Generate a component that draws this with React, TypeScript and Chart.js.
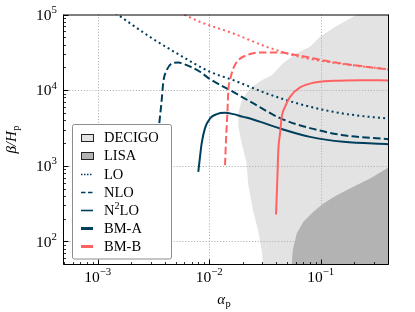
import { useEffect, useRef } from 'react';
import { Chart, registerables } from 'chart.js';

Chart.register(...registerables);

// ---------------- data ----------------
const X_MIN = 4.94e-4;
const X_MAX = 0.405;
const Y_MIN = 49.6;
const Y_MAX = 1e5;

const xMajor = [1e-3, 1e-2, 1e-1];
const xTickLabels = ['10^{\u22123}', '10^{\u22122}', '10^{\u22121}'];
const yMajor = [1e2, 1e3, 1e4, 1e5];
const yTickLabels = ['10^{2}', '10^{3}', '10^{4}', '10^{5}'];

const xTitle = '\u03B1_{p}';
const yTitle = '\u03B2/H_{p}';

const legendLabels = ['DECIGO', 'LISA', 'LO', 'NLO', 'N^{2}LO', 'BM-A', 'BM-B'];

// BM-A
const bmA_LO_x = [0.00133, 0.00294, 0.00547, 0.01017, 0.01645, 0.03279, 0.06522, 0.1297, 0.2252, 0.4041];
const bmA_LO_y = [114000, 50650, 29010, 17460, 13560, 9045, 6530, 5166, 4574, 4226];

const bmA_NLO_x = [0.00357, 0.00375, 0.00388, 0.00416, 0.00461, 0.00528, 0.00628, 0.00827, 0.01017, 0.01537, 0.0247, 0.0432, 0.0802, 0.1585, 0.4041];
const bmA_NLO_y = [3660, 7375, 12900, 18400, 22500, 23200, 21400, 17500, 13980, 10000, 6730, 4260, 3150, 2540, 2250];

const bmA_N2LO_x = [0.00798, 0.00827, 0.00856, 0.00917, 0.01017, 0.01168, 0.01386, 0.01645, 0.02021, 0.02322, 0.04315, 0.0802, 0.1595, 0.4041];
const bmA_N2LO_y = [832, 1313, 1974, 3146, 4226, 4818, 5012, 4818, 4438, 4226, 3117, 2413, 2073, 1933];

// BM-B
const bmB_LO_x = [0.00494, 0.00827, 0.01645, 0.03279, 0.06522, 0.1297, 0.2252, 0.4041];
const bmB_LO_y = [114200, 79940, 56170, 37360, 27550, 23090, 20760, 18950];

const bmB_NLO_x = [0.01386, 0.01415, 0.01459, 0.01484, 0.01537, 0.01645, 0.01824, 0.0217, 0.02856, 0.0403, 0.05679, 0.1297, 0.4041];
const bmB_NLO_y = [1020, 2183, 5440, 10000, 13560, 19360, 24920, 29010, 31510, 31510, 29640, 23450, 18660];

const bmB_N2LO_x = [0.03972, 0.0408, 0.04166, 0.04315, 0.04469, 0.04783, 0.05305, 0.06522, 0.0858, 0.1297, 0.2252, 0.4041];
const bmB_N2LO_y = [227.5, 646, 1610, 2677, 4438, 6016, 8155, 10860, 12490, 13270, 13560, 13430];

// sensitivity regions (outline, closed beyond the plot)
const decigoX = [0.25, 0.2103, 0.1711, 0.1289, 0.0986, 0.0802, 0.0609, 0.0459, 0.03634, 0.02957, 0.02322, 0.01956, 0.01824, 0.01824, 0.01956, 0.02095, 0.0217, 0.02228, 0.0247, 0.0274, 0.02957, 0.0307, 1, 1];
const decigoY = [115000, 98900, 84230, 66000, 50650, 37360, 30840, 22750, 15790, 13560, 10630, 7375, 4966, 3272, 1992, 1313, 1084, 590, 259, 141, 76.7, 45, 45, 115000];

const lisaX = [1, 0.0549, 0.0549, 0.05609, 0.0609, 0.06981, 0.0858, 0.1055, 0.1391, 0.196, 0.2768, 0.3907, 0.5, 1];
const lisaY = [40, 40, 48.6, 76.7, 127.6, 181.6, 246.2, 317.9, 409.3, 526.8, 680.3, 922.6, 1150, 1150];

// ---------------- styles ----------------
const BM_A = '#003f5c';
const BM_B = '#ff6361';
const DECIGO_FILL = '#e3e3e3';
const LISA_FILL = '#b3b3b3';
const FONT = '"Liberation Serif", "DejaVu Serif", "Times New Roman", serif';
const DOT = [2, 3.2];
const DASH = [7.5, 3.3];

type Seg = { t: string; k: 'n' | 'sup' | 'sub' };
function parseRich(s: string): Seg[] {
  const out: Seg[] = [];
  const re = /(\^|_)\{([^}]*)\}/g;
  let last = 0;
  let m: RegExpExecArray | null;
  while ((m = re.exec(s))) {
    if (m.index > last) out.push({ t: s.slice(last, m.index), k: 'n' });
    out.push({ t: m[2], k: m[1] === '^' ? 'sup' : 'sub' });
    last = re.lastIndex;
  }
  if (last < s.length) out.push({ t: s.slice(last), k: 'n' });
  return out;
}

function drawRich(ctx: CanvasRenderingContext2D, text: string, x: number, y: number, size: number, align: 'left' | 'center' | 'right', italic = false) {
  const segs = parseRich(text);
  const fontFor = (k: Seg['k']) => {
    const s = k === 'n' ? size : size * 0.7;
    const st = k === 'n' && italic ? 'italic ' : '';
    return `${st}${s}px ${FONT}`;
  };
  let w = 0;
  const widths = segs.map((sg) => {
    ctx.font = fontFor(sg.k);
    const mw = ctx.measureText(sg.t).width + (sg.k === 'sub' && italic ? 0.5 : 0);
    w += mw;
    return mw;
  });
  let cx = align === 'left' ? x : align === 'center' ? x - w / 2 : x - w;
  ctx.textAlign = 'left';
  ctx.textBaseline = 'alphabetic';
  segs.forEach((sg, i) => {
    ctx.font = fontFor(sg.k);
    const dy = sg.k === 'sup' ? -size * 0.42 : sg.k === 'sub' ? size * 0.22 : 0;
    ctx.fillText(sg.t, cx + (sg.k === 'sub' && italic ? 0.5 : 0), y + dy);
    cx += widths[i];
  });
}

const decor = {
  id: 'decor',
  beforeDatasetsDraw(chart: any) {
    const ctx: CanvasRenderingContext2D = chart.ctx;
    const { left, right, top, bottom } = chart.chartArea;
    const xs = chart.scales.x;
    const ys = chart.scales.y;
    ctx.save();
    ctx.strokeStyle = '#b0b0b0';
    ctx.lineWidth = 1;
    ctx.setLineDash([1.1, 1.8]);
    xMajor.forEach((v) => {
      const px = Math.round(xs.getPixelForValue(v)) + 0.5;
      ctx.beginPath();
      ctx.moveTo(px, top);
      ctx.lineTo(px, bottom);
      ctx.stroke();
    });
    yMajor.forEach((v) => {
      if (v >= Y_MAX) return;
      const py = Math.round(ys.getPixelForValue(v)) + 0.5;
      ctx.beginPath();
      ctx.moveTo(left, py);
      ctx.lineTo(right, py);
      ctx.stroke();
    });
    ctx.restore();
  },
  afterDraw(chart: any) {
    const ctx: CanvasRenderingContext2D = chart.ctx;
    const { left, right, top, bottom } = chart.chartArea;
    const xs = chart.scales.x;
    const ys = chart.scales.y;
    ctx.save();
    // spines
    ctx.strokeStyle = '#000';
    ctx.lineWidth = 1;
    ctx.setLineDash([]);
    ctx.beginPath();
    ctx.moveTo(left, top + 0.5);
    ctx.lineTo(right, top + 0.5);
    ctx.moveTo(right, top);
    ctx.lineTo(right, bottom);
    ctx.moveTo(right, bottom);
    ctx.lineTo(left, bottom);
    ctx.moveTo(left, bottom);
    ctx.lineTo(left, top);
    ctx.stroke();

    // ticks (inward, bottom and left)
    for (let e = -4; e <= 0; e++) {
      for (let m = 1; m <= 9; m++) {
        const v = m * Math.pow(10, e);
        if (v < X_MIN || v > X_MAX) continue;
        const px = Math.round(xs.getPixelForValue(v)) + 0.5;
        const len = m === 1 ? 5 : 2.5;
        ctx.lineWidth = m === 1 ? 1 : 0.8;
        ctx.beginPath();
        ctx.moveTo(px, bottom);
        ctx.lineTo(px, bottom - len);
        ctx.stroke();
      }
    }
    for (let e = 1; e <= 5; e++) {
      for (let m = 1; m <= 9; m++) {
        const v = m * Math.pow(10, e);
        if (v < Y_MIN || v > Y_MAX * 1.0001) continue;
        const py = Math.round(ys.getPixelForValue(v)) + 0.5;
        const len = m === 1 ? 5 : 2.5;
        ctx.lineWidth = m === 1 ? 1 : 0.8;
        ctx.beginPath();
        ctx.moveTo(left, py);
        ctx.lineTo(left + len, py);
        ctx.stroke();
      }
    }

    // tick labels
    ctx.fillStyle = '#000';
    xMajor.forEach((v, i) => {
      drawRich(ctx, xTickLabels[i], xs.getPixelForValue(v), 282, 15.5, 'center');
    });
    yMajor.forEach((v, i) => {
      drawRich(ctx, yTickLabels[i], 57, ys.getPixelForValue(v) + 5.2, 15.5, 'right');
    });

    // axis titles
    drawRich(ctx, xTitle, (left + right) / 2 - 2, 304, 15, 'center', true);
    ctx.save();
    ctx.translate(16, (top + bottom) / 2);
    ctx.rotate(-Math.PI / 2);
    drawRich(ctx, yTitle, 0, 0, 15, 'center', true);
    ctx.restore();

    // legend
    const lx0 = 72.5, ly0 = 124.5, lx1 = 171.5, ly1 = 259;
    ctx.fillStyle = '#fff';
    ctx.strokeStyle = '#8c8c8c';
    ctx.lineWidth = 1;
    ctx.beginPath();
    (ctx as any).roundRect(lx0, ly0, lx1 - lx0, ly1 - ly0, 2);
    ctx.fill();
    ctx.stroke();
    const hx0 = 81, hx1 = 93, tx = 104;
    legendLabels.forEach((lab, i) => {
      const cy = 137.3 + i * 18.1;
      ctx.save();
      if (i <= 1) {
        ctx.fillStyle = i === 0 ? DECIGO_FILL : LISA_FILL;
        ctx.strokeStyle = '#222';
        ctx.lineWidth = 1;
        const ry = Math.round(cy - 3.5) + 0.5;
        ctx.fillRect(hx0 + 0.5, ry, hx1 - hx0, 7);
        ctx.strokeRect(hx0 + 0.5, ry, hx1 - hx0, 7);
      } else {
        ctx.strokeStyle = i === 6 ? BM_B : BM_A;
        ctx.lineWidth = i >= 5 ? 3 : 1.6;
        ctx.setLineDash(i === 2 ? [1.5, 1.5] : i === 3 ? [4.5, 2.5] : []);
        ctx.lineCap = 'butt';
        ctx.beginPath();
        ctx.moveTo(hx0, Math.round(cy) + 0.5);
        ctx.lineTo(hx1, Math.round(cy) + 0.5);
        ctx.stroke();
      }
      ctx.restore();
      ctx.fillStyle = '#000';
      drawRich(ctx, lab, tx, cy + 5, 14.5, 'left');
    });
    ctx.restore();
  },
};

function pts(xs: number[], ys: number[]) {
  return xs.map((x, i) => ({ x, y: ys[i] }));
}

function lineDs(label: string, xs: number[], ys: number[], color: string, dash: number[]) {
  return {
    label,
    data: pts(xs, ys),
    borderColor: color,
    borderWidth: 2,
    borderDash: dash,
    borderCapStyle: 'butt',
    pointRadius: 0,
    fill: false,
    cubicInterpolationMode: 'monotone',
    clip: 0,
  };
}

function shapeDs(label: string, xs: number[], ys: number[], color: string) {
  return {
    label,
    data: pts(xs, ys),
    borderWidth: 0,
    borderColor: 'rgba(0,0,0,0)',
    backgroundColor: color,
    fill: 'shape',
    pointRadius: 0,
    tension: 0,
    clip: 0,
  };
}

export default function App() {
  const ref = useRef<HTMLCanvasElement>(null);
  useEffect(() => {
    const canvas = ref.current;
    if (!canvas) return;
    const chart = new Chart(canvas, {
      type: 'line',
      data: {
        datasets: [
          lineDs('BM-B N2LO', bmB_N2LO_x, bmB_N2LO_y, BM_B, []),
          lineDs('BM-B NLO', bmB_NLO_x, bmB_NLO_y, BM_B, DASH),
          lineDs('BM-B LO', bmB_LO_x, bmB_LO_y, BM_B, DOT),
          lineDs('BM-A N2LO', bmA_N2LO_x, bmA_N2LO_y, BM_A, []),
          lineDs('BM-A NLO', bmA_NLO_x, bmA_NLO_y, BM_A, DASH),
          lineDs('BM-A LO', bmA_LO_x, bmA_LO_y, BM_A, DOT),
          shapeDs('LISA', lisaX, lisaY, LISA_FILL),
          shapeDs('DECIGO', decigoX, decigoY, DECIGO_FILL),
        ] as any,
      },
      options: {
        responsive: false,
        animation: false,
        devicePixelRatio: 1,
        layout: { padding: { left: 63.5, right: 26.5, top: 14.5, bottom: 47.5 } },
        scales: {
          x: { type: 'logarithmic', min: X_MIN, max: X_MAX, display: false },
          y: { type: 'logarithmic', min: Y_MIN, max: Y_MAX, display: false },
        },
        plugins: {
          legend: { display: false },
          tooltip: { enabled: false },
          filler: { propagate: false, drawTime: 'beforeDatasetsDraw' },
        },
        events: [],
      } as any,
      plugins: [decor],
    });
    return () => chart.destroy();
  }, []);
  return (
    <div style={{ position: 'absolute', left: 0, top: 0, width: 415, height: 312 }}>
      <canvas ref={ref} width={415} height={312} style={{ display: 'block', width: 415, height: 312 }} />
    </div>
  );
}
